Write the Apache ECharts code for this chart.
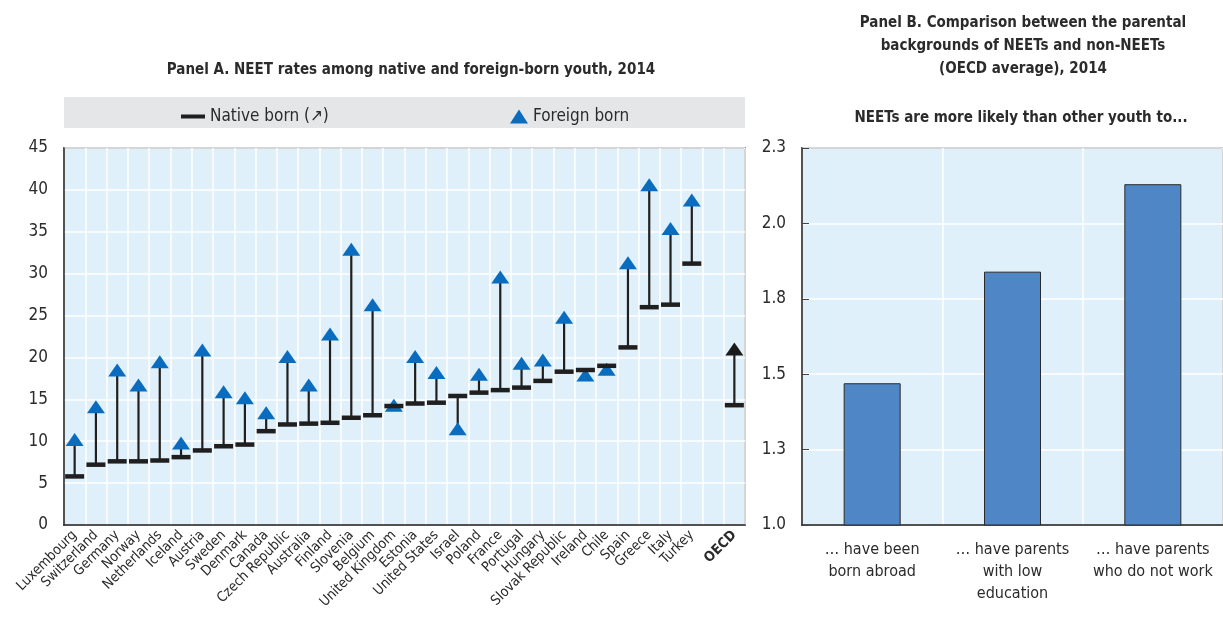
<!DOCTYPE html>
<html>
<head>
<meta charset="utf-8">
<script src="https://cdn.jsdelivr.net/npm/echarts@6/dist/echarts.min.js"></script>
<style>
  html, body { margin: 0; padding: 0; background: #fff; }
  #chart { width: 1223px; height: 620px; }
</style>
</head>
<body>
<div id="chart"></div>
<script>
// Panel A: NEET rates by country of birth, 2014 (%)
const countries = ['Luxembourg', 'Switzerland', 'Germany', 'Norway', 'Netherlands', 'Iceland', 'Austria',
  'Sweden', 'Denmark', 'Canada', 'Czech Republic', 'Australia', 'Finland', 'Slovenia', 'Belgium',
  'United Kingdom', 'Estonia', 'United States', 'Israel', 'Poland', 'France', 'Portugal', 'Hungary',
  'Slovak Republic', 'Ireland', 'Chile', 'Spain', 'Greece', 'Italy', 'Turkey', '', 'OECD'];
const nativeBorn = [5.8, 7.2, 7.6, 7.6, 7.7, 8.1, 8.9, 9.4, 9.6, 11.2, 12.0, 12.1, 12.2, 12.8, 13.1,
  14.2, 14.5, 14.6, 15.4, 15.8, 16.1, 16.4, 17.2, 18.3, 18.5, 19.0, 21.2, 26.0, 26.3, 31.2, null, 14.3];
const foreignBorn = [10.2, 14.1, 18.5, 16.7, 19.5, 9.8, 20.9, 15.9, 15.2, 13.4, 20.1, 16.7, 22.8, 32.9, 26.3,
  14.3, 20.1, 18.2, 11.5, 18.0, 29.6, 19.3, 19.7, 24.8, 17.9, 18.6, 31.3, 40.6, 35.4, 38.8, null, 21.0];
const yTicksA = { min: 0, max: 45, interval: 5 };

// Panel B: likelihood ratios, NEETs vs. non-NEETs (OECD average)
const backgrounds = ['… have been\nborn abroad', '… have parents\nwith low\neducation', '… have parents\nwho do not work'];
const ratios = [1.47, 1.84, 2.13];
const yTicksB = { min: 1.0, max: 2.25, interval: 0.25 };

const FONT = '"Liberation Sans Narrow", "DejaVu Sans Condensed", "Liberation Sans", sans-serif';
const TXT = '#2b2b2b';
const BG = '#dff0fa';
const BLUE = '#0a6cbf';
const AXIS = '#262626';

const chart = echarts.init(document.getElementById('chart'), null, { renderer: 'canvas' });

const foreignData = foreignBorn.map((v, i) =>
  countries[i] === 'OECD' ? { value: v, itemStyle: { color: '#1a1a1a', opacity: 1 } } : v);
const connectorData = countries
  .map((c, i) => [i, nativeBorn[i], foreignBorn[i]])
  .filter(d => d[1] != null && d[2] != null);

chart.setOption({
  animation: false,
  textStyle: { fontFamily: FONT },
  title: [
    {
      text: 'Panel A. NEET rates among native and foreign-born youth, 2014',
      left: 406, top: 58, textAlign: 'center',
      textStyle: { fontFamily: FONT, fontSize: 15, fontWeight: 'bold', color: TXT }
    },
    {
      text: 'Panel B. Comparison between the parental\nbackgrounds of NEETs and non-NEETs\n(OECD average), 2014',
      left: 1018, top: 7, textAlign: 'center',
      textStyle: { fontFamily: FONT, fontSize: 15, fontWeight: 'bold', color: TXT, lineHeight: 23, align: 'center' }
    },
    {
      text: 'NEETs are more likely than other youth to...',
      left: 1016, top: 106, textAlign: 'center',
      textStyle: { fontFamily: FONT, fontSize: 15, fontWeight: 'bold', color: TXT }
    }
  ],
  graphic: [
    { type: 'rect', shape: { x: 64, y: 97, width: 681, height: 31 }, style: { fill: '#e5e6e8' }, z: 0 }
  ],
  legend: [
    {
      data: [{ name: 'Native born (↗)', icon: 'rect' }],
      left: 176, top: 103, itemWidth: 24, itemHeight: 4, itemGap: 8,
      textStyle: { fontFamily: FONT, fontSize: 17, color: TXT }, z: 5
    },
    {
      data: [{ name: 'Foreign born', icon: 'triangle' }],
      left: 505, top: 103, itemWidth: 18, itemHeight: 14,
      textStyle: { fontFamily: FONT, fontSize: 17, color: TXT }, z: 5
    }
  ],
  grid: [
    { left: 64, top: 148, width: 681, height: 377, show: true, backgroundColor: BG,
      borderColor: AXIS, borderWidth: 1.5 },
    { left: 802, top: 148, width: 429, height: 377, show: true, backgroundColor: BG,
      borderColor: AXIS, borderWidth: 1.5 }
  ],
  xAxis: [
    {
      gridIndex: 0, type: 'category', data: countries, boundaryGap: true,
      axisLine: { lineStyle: { color: AXIS, width: 1.5 } },
      axisTick: { inside: true, length: 6, interval: 0, lineStyle: { color: '#444' } },
      splitLine: { show: true, interval: 0, lineStyle: { color: '#ffffff', width: 1.5 } },
      axisLabel: {
        interval: 0, rotate: 45, margin: 8, fontFamily: FONT, fontSize: 14, color: TXT,
        formatter: v => v === 'OECD' ? '{b|' + v + '}' : v,
        rich: { b: { fontWeight: 'bold', fontFamily: FONT, fontSize: 14, color: TXT } }
      }
    },
    {
      gridIndex: 1, type: 'category', data: backgrounds, boundaryGap: true,
      axisLine: { lineStyle: { color: AXIS, width: 1.5 } },
      axisTick: { inside: true, length: 7, interval: 0, lineStyle: { color: '#444' } },
      splitLine: { show: true, interval: 0, lineStyle: { color: '#ffffff', width: 1.5 } },
      axisLabel: { interval: 0, margin: 14, fontFamily: FONT, fontSize: 16, color: TXT, lineHeight: 22 }
    }
  ],
  yAxis: [
    {
      gridIndex: 0, type: 'value', min: yTicksA.min, max: yTicksA.max, interval: yTicksA.interval,
      axisLine: { show: true, lineStyle: { color: AXIS, width: 1.5 } },
      axisTick: { show: false },
      splitLine: { lineStyle: { color: '#ffffff', width: 1.5 } },
      axisLabel: { margin: 16, fontFamily: FONT, fontSize: 17, color: TXT }
    },
    {
      gridIndex: 1, type: 'value', min: yTicksB.min, max: yTicksB.max, interval: yTicksB.interval,
      axisLine: { show: true, lineStyle: { color: AXIS, width: 1.5 } },
      axisTick: { show: true, inside: true, length: 7, lineStyle: { color: '#444' } },
      splitLine: { lineStyle: { color: '#ffffff', width: 1.5 } },
      axisLabel: { margin: 16, fontFamily: FONT, fontSize: 17, color: TXT, formatter: v => v.toFixed(1) }
    }
  ],
  series: [
    {
      // vertical connector from native-born to foreign-born rate
      type: 'custom', xAxisIndex: 0, yAxisIndex: 0, z: 2,
      data: connectorData,
      encode: { x: 0, y: [1, 2] },
      renderItem: (params, api) => {
        const a = api.coord([api.value(0), api.value(1)]);
        const b = api.coord([api.value(0), api.value(2)]);
        return { type: 'line', shape: { x1: a[0], y1: a[1], x2: b[0], y2: b[1] },
          style: { stroke: '#1f1f1f', lineWidth: 2.2 } };
      },
      silent: true
    },
    {
      name: 'Foreign born', type: 'scatter', xAxisIndex: 0, yAxisIndex: 0, z: 3,
      symbol: 'triangle', symbolSize: [18, 13],
      itemStyle: { color: BLUE, opacity: 1 },
      data: foreignData
    },
    {
      name: 'Native born (↗)', type: 'scatter', xAxisIndex: 0, yAxisIndex: 0, z: 4,
      symbol: 'rect', symbolSize: [19, 4.5],
      itemStyle: { color: '#1f1f1f', opacity: 1 },
      data: nativeBorn
    },
    {
      name: 'Ratio', type: 'bar', xAxisIndex: 1, yAxisIndex: 1, barWidth: 57,
      itemStyle: { color: '#4f86c6', borderColor: '#2a2a2a', borderWidth: 1 },
      data: ratios
    }
  ]
});
</script>
</body>
</html>
